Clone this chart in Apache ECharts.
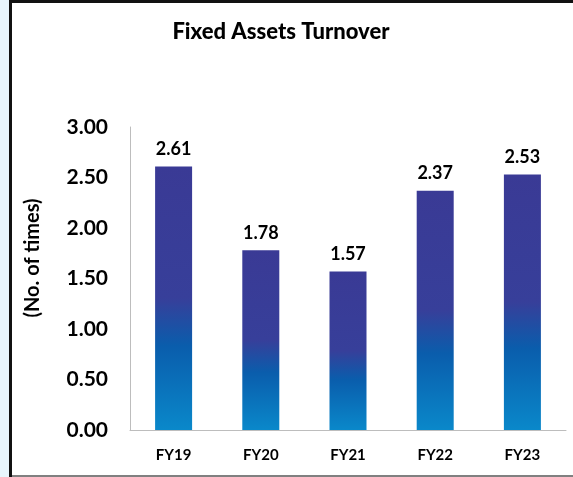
<!DOCTYPE html>
<html>
<head>
<meta charset="utf-8">
<script src="https://cdn.jsdelivr.net/npm/echarts@6/dist/echarts.min.js"></script>
<style>
  html, body { margin: 0; padding: 0; background: #fff; }
  #chart { width: 573px; height: 477px; }
</style>
</head>
<body>
<div id="chart"></div>
<script>
var categories = ['FY19', 'FY20', 'FY21', 'FY22', 'FY23'];
var turnover = [2.61, 1.78, 1.57, 2.37, 2.53];
var yTicks = [0, 0.5, 1, 1.5, 2, 2.5, 3];

var chart = echarts.init(document.getElementById('chart'));

// gradient of each bar: dark indigo on top, blue at the bottom
var barColor = new echarts.graphic.LinearGradient(0, 0, 0, 1, [
  { offset: 0, color: '#3a3a95' },
  { offset: 0.5, color: '#373f9a' },
  { offset: 0.68, color: '#0a5dac' },
  { offset: 1, color: '#0a88ca' }
]);

var font = 'Lato, "Open Sans", sans-serif';

var option = {
  backgroundColor: '#ffffff',
  animation: false,
  title: {
    text: 'Fixed Assets Turnover',
    left: 276,
    top: 16,
    textAlign: 'center',
    textStyle: { fontFamily: font, fontWeight: 900, fontSize: 22, color: '#000' }
  },
  grid: { left: 130, right: 7, top: 127, bottom: 47 },
  xAxis: {
    type: 'category',
    data: categories,
    axisLine: { lineStyle: { color: '#bdbdbd', width: 1 } },
    axisTick: { show: false },
    axisLabel: { fontFamily: font, fontWeight: 'bold', fontSize: 15, color: '#000', margin: 18 }
  },
  yAxis: {
    type: 'value',
    min: yTicks[0],
    max: yTicks[yTicks.length - 1],
    interval: 0.5,
    splitLine: { show: false },
    axisLine: { show: true, lineStyle: { color: '#bdbdbd', width: 1 } },
    axisTick: { show: false },
    axisLabel: {
      fontFamily: font, fontWeight: 'bold', fontSize: 21, color: '#000', margin: 22,
      formatter: function (v) { return v.toFixed(2); }
    }
  },
  series: [{
    type: 'bar',
    data: turnover,
    barWidth: 37,
    itemStyle: { color: barColor },
    label: {
      show: true,
      position: 'top',
      distance: 8,
      fontFamily: font, fontWeight: 'bold', fontSize: 18, color: '#000',
      formatter: function (p) { return p.value.toFixed(2); }
    }
  }],
  graphic: [
    // light strip on the left and the frame
    { type: 'rect', shape: { x: 0, y: 0, width: 9, height: 477 }, style: { fill: '#e8f5fc' } },
    { type: 'rect', shape: { x: 9, y: 0, width: 3, height: 477 }, style: { fill: '#111' } },
    { type: 'rect', shape: { x: 9, y: 0, width: 564, height: 3 }, style: { fill: '#111' } },
    { type: 'rect', shape: { x: 12, y: 475, width: 561, height: 2 }, style: { fill: '#808080' } },
    {
      type: 'text',
      x: 33, y: 258,
      rotation: Math.PI / 2,
      style: {
        text: '(No. of times)',
        fontFamily: font, fontWeight: 'bold', fontSize: 20, fill: '#000',
        align: 'center', verticalAlign: 'middle'
      }
    }
  ]
};

chart.setOption(option);
</script>
</body>
</html>
